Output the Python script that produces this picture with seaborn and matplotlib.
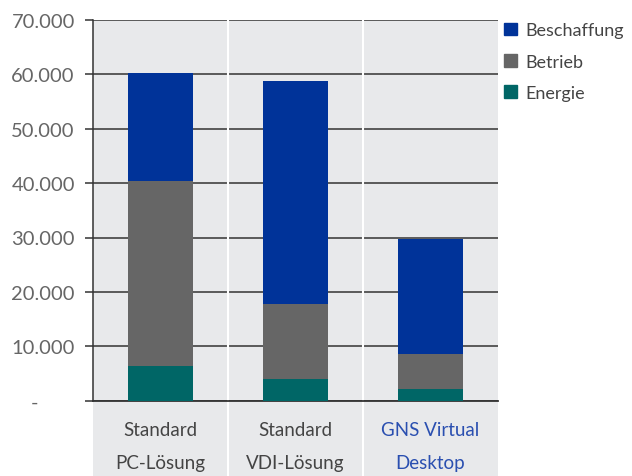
import pandas as pd
import numpy as np
import seaborn as sns
import matplotlib.pyplot as plt
from matplotlib.ticker import FuncFormatter
from matplotlib.patches import Patch

sns.set_style('white')
plt.rcParams['font.family'] = ['Lato', 'DejaVu Sans']

categories = ['Standard\nPC-Lösung', 'Standard\nVDI-Lösung', 'GNS Virtual\nDesktop']
energie = [6300, 4050, 2200]
betrieb = [34100, 13650, 6450]
beschaffung = [19900, 41050, 21050]

c_blue = '#003399'
c_gray = '#666666'
c_teal = '#006666'
bg = '#e8e9eb'

df = pd.DataFrame({'cat': categories, 'Energie': energie, 'Betrieb': betrieb,
                   'Beschaffung': beschaffung})
df['lvl2'] = df['Energie'] + df['Betrieb']
df['lvl3'] = df['lvl2'] + df['Beschaffung']

fig = plt.figure(figsize=(6.32, 4.77), dpi=100)

# grey band behind the category labels
ax_lab = fig.add_axes([0.147, 0.0, 0.641, 0.158])
ax_lab.set_facecolor(bg)
ax_lab.set_xlim(-0.5, 2.5)
for x in [0.5, 1.5]:
    ax_lab.axvline(x, color='white', lw=1.5)
ax_lab.set_xticks([])
ax_lab.set_yticks([])
for s in ax_lab.spines.values():
    s.set_visible(False)

ax = fig.add_axes([0.147, 0.158, 0.641, 0.798])
ax.set_facecolor(bg)
for col, c in [('lvl3', c_blue), ('lvl2', c_gray), ('Energie', c_teal)]:
    sns.barplot(data=df, x='cat', y=col, color=c, width=0.48, ax=ax,
                saturation=1, linewidth=0, edgecolor='none', zorder=3)

ax.set_xlim(-0.5, 2.5)
ax.set_ylim(0, 70000)
ax.set_yticks(np.arange(0, 70001, 10000))
for x in [0.5, 1.5]:
    ax.axvline(x, color='white', lw=1.5, zorder=1)
ax.grid(axis='y', color='#333333', lw=1.1, zorder=2)
ax.set_axisbelow(True)


def fmt(v, pos):
    if v == 0:
        return '-       '
    return '{:,.0f}'.format(v).replace(',', '.')


ax.yaxis.set_major_formatter(FuncFormatter(fmt))
ax.tick_params(axis='y', length=6, color='#333333', width=1.1, labelsize=14.5,
               labelcolor='#666666', pad=7, left=True)
ax.tick_params(axis='x', length=0, labelsize=13.5, labelcolor='#444444', pad=15)
for lbl in ax.get_xticklabels():
    lbl.set_linespacing(2.1)
ax.get_xticklabels()[2].set_color('#2a4fb0')
ax.set_xlabel('')
ax.set_ylabel('')
for side in ['top', 'right']:
    ax.spines[side].set_visible(False)
ax.spines['left'].set_color('#333333')
ax.spines['bottom'].set_color('#333333')
ax.spines['left'].set_linewidth(1.1)
ax.spines['bottom'].set_linewidth(1.3)
ax.spines['left'].set_zorder(4)

handles = [Patch(color=c_blue, label='Beschaffung'),
           Patch(color=c_gray, label='Betrieb'),
           Patch(color=c_teal, label='Energie')]
fig.legend(handles=handles, loc='upper left', bbox_to_anchor=(0.772, 0.985),
           frameon=False, fontsize=13, handlelength=0.7, handleheight=0.7,
           handletextpad=0.45, labelspacing=0.85, labelcolor='#444444')

fig.savefig('out.png', dpi=100)
